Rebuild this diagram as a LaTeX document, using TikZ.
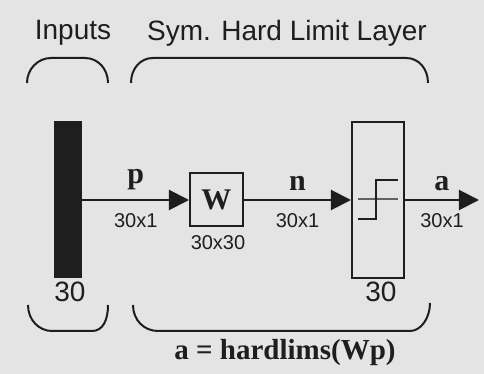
\documentclass[tikz,border=0pt]{standalone}
\usepackage{fontspec}
\setmainfont{Liberation Serif}
\setsansfont{Liberation Sans}
\usetikzlibrary{arrows.meta,positioning}

\definecolor{scanbg}{RGB}{228,228,228}
\definecolor{ink}{RGB}{30,30,30}

\begin{document}
\begin{tikzpicture}[x=0.5pt,y=-0.5pt,font=\sffamily,color=ink,
    link/.style={line width=1pt,-{Triangle[length=10pt,width=10pt]}},
    brace/.style={line width=1pt},
    dim/.style={font=\sffamily\fontsize{10}{10}\selectfont},
    vec/.style={font=\rmfamily\bfseries\fontsize{15}{15}\selectfont},
    head/.style={font=\sffamily\fontsize{14}{14}\selectfont}]
    \fill[scanbg] (0,0) rectangle (484,374);

    % headings and braces
    \node[head] (inputs) at (73,33) {Inputs};
    \node[head] (layer) at (287,33) {Sym. Hard Limit Layer};
    \draw[brace] (27,83) .. controls (27,69) and (38,58) .. (51,58) -- (85,58)
        .. controls (98,58) and (108,69) .. (108,83);
    \draw[brace] (131,83) .. controls (131,69) and (140,58) .. (153,58) -- (406,58)
        .. controls (419,58) and (428,69) .. (428,83);

    % input vector, weights, transfer function
    \node[fill=ink,minimum width=14pt,minimum height=78.5pt,inner sep=0pt] (pbar) at (68,200) {};
    \node[draw,line width=1pt,minimum width=26.5pt,minimum height=26.5pt,inner sep=0pt,vec] (wbox) at (216.5,200) {W};
    \node[draw,line width=1pt,minimum width=26pt,minimum height=78pt,inner sep=0pt] (hlbox) at (378,200) {};
    \coordinate (aend) at (479,200);

    \draw[line width=0.6pt,ink!70] (358,199) -- (398,199);
    \draw[line width=1pt] (358,219) -- (376,219) -- (376,180) -- (398,180);

    \draw[link] (pbar) -- node[vec,above=1pt] (plbl) {p} node[dim,below=3pt] (pdim) {30x1} (wbox);
    \draw[link] (wbox) -- node[vec,above=1pt] (nlbl) {n} node[dim,below=3pt] (ndim) {30x1} (hlbox);
    \draw[link] (hlbox) -- node[vec,above=1pt] (albl) {a} node[dim,below=3pt] (adim) {30x1} (aend);

    \node[dim] (wdim) at (218,243) {30x30};
    \node[head] (pnum) at (70,292) {30};
    \node[head] (anum) at (381,292) {30};

    % bottom braces and equation
    \draw[brace] (28,305) .. controls (28,320) and (39,331) .. (52,331) -- (92,331)
        .. controls (103,331) and (108,320) .. (108,305);
    \draw[brace] (133,305) .. controls (133,320) and (144,331) .. (158,331) -- (410,331)
        .. controls (421,331) and (430,318) .. (430,303);
    \node[font=\rmfamily\bfseries\fontsize{14.5}{14.5}\selectfont] (eqn) at (285,353) {a = hardlims(Wp)};
\end{tikzpicture}
\end{document}
